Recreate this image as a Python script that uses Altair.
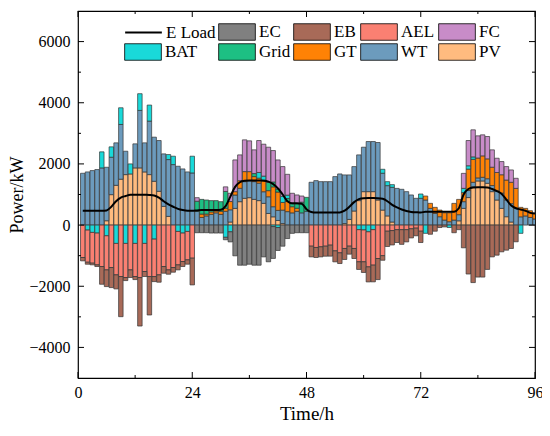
import altair as alt
import pandas as pd

hours = list(range(1, 97))

PV = [0, 0, 0, 0, 0, 142, 995, 1300, 1500, 1650, 1672, 1870, 1870, 1738, 1650, 1432, 1104, 612, 284, 0, 0, 0, 0, 0,
      0, 0, 0, 0, 0, 0, 0, 100, 546, 765, 875, 896, 841, 800, 710, 380, 270, 150, 50, 0, 0, 0, 0, 0,
      0, 0, 0, 0, 0, 0, 0, 50, 185, 460, 800, 1093, 1093, 1093, 820, 490, 300, 100, 0, 0, 0, 0, 0, 0,
      0, 0, 0, 0, 0, 0, 0, 140, 546, 900, 1250, 1443, 1443, 1366, 1093, 820, 546, 273, 100, 0, 0, 0, 0, 0]

WT = [1694, 1738, 1782, 1815, 1870, 1749, 1224, 1389, 1790, 765, 0, 786, 1879, 951, 1750, 1443, 1661, 1716, 1858, 1978, 1924, 1836, 1738, 1705,
      450, 250, 300, 350, 400, 350, 450, 400, 437, 437, 546, 557, 580, 570, 380, 546, 330, 330, 440, 440, 400, 450, 400, 450,
      1400, 1454, 1420, 1420, 1420, 1585, 1672, 1590, 1455, 1452, 1495, 1454, 1639, 1639, 1880, 1205, 990, 1135, 1200, 1170, 1093, 985, 875, 875,
      820, 546, 380, 273, 164, 110, 164, 200, 220, 230, 150, 100, 120, 150, 200, 300, 500, 550, 600, 550, 270, 300, 250, 200]

GT = [0] * 24 + \
     [0, 110, 60, 80, 60, 100, 100, 270, 110, 250, 328, 295, 164, 165, 380, 200, 650, 600, 250, 330, 200, 100, 0, 0] + \
     [0] * 24 + \
     [130, 165, 200, 217, 236, 290, 546, 500, 295, 700, 750, 650, 700, 650, 600, 600, 600, 650, 700, 650, 310, 246, 220, 183]

Grid = [0] * 24 + \
       [330, 480, 460, 370, 340, 315, 550, 0, 0, 0, 0, 0, 100, 0, 0, 270, 160, 100, 0, 100, 100, 150, 350, 457] + \
       [0] * 48

BAT = [0, -164, -240, -262, 524, -350, 339, -600, 546, -600, 328, -600, 547, -600, 524, -460, 0, 0, 164, 274, -208, -262, -208, 547,
       0, 0, 0, 0, 0, 0, -400, -220, 0, 0, 0, 0, 0, 185, 131, 0, -50, -80, 200, 110, 0, 0, 0, 0,
       0, 0, 0, 0, 0, 0, 0, 0, 0, 0, -150, -160, -220, -150, 0, 130, 130, 87, 0, 0, 0, 0, 0, 141,
       -270, 0, 0, 0, 0, -80, 0, 0, 140, 110, 80, 0, 0, 0, 0, 0, 0, 0, 0, 0, -270, 0, 0, 0]

FC = [0] * 24 + \
     [116, 0, 0, 0, 0, 0, 150, 270, 1038, 843, 1038, 1006, 775, 1045, 1044, 1151, 1027, 950, 973, 680, 340, 285, 200, 0] + \
     [0] * 24 + \
     [0, 0, 0, 0, 0, 0, 0, 0, 490, 825, 885, 725, 688, 730, 567, 466, 431, 440, 403, 330, 0, 0, 0, 0]

AEL = [-1060, -1050, -1005, -1038, -1355, -1115, -1388, -1027, -1683, -1115, -1465, -1082, -1716, -918, -1683, -1224, -1628, -1355, -1465, -1388, -1093, -929, -929, -1082] + \
      [0] * 24 + \
      [-690, -732, -710, -690, -656, -842, -907, -765, -689, -765, -1050, -1040, -1146, -1160, -1093, -1000, -200, -180, -150, -150, -150, -120, -100, -200] + \
      [0] * 24

EB = [-110, -66, -55, -55, -580, -546, -656, -460, -1312, -100, -250, -100, -1585, -164, -1257, -164, -240, -219, -142, -153, -164, -164, -142, -874] + \
     [0] * 24 + \
     [-350, -328, -330, -328, -360, -360, -350, -360, -262, -328, -251, -350, -492, -546, -689, -150, -500, -470, -420, -480, -400, -300, -250, -370] + \
     [0, -300, -200, -80, -60, 0, -250, -150, -743, -1600, -1880, -1700, -1700, -1450, -1040, -984, -874, -820, -765, -546, 0, 0, 0, 0]

EC = [0] * 24 + \
     [-250, -250, -250, -260, -260, -260, -80, -330, -1005, -1312, -1312, -1280, -1312, -1312, -1040, -1200, -1040, -750, -690, -440, -270, -250, -250, -250] + \
     [0] * 48

ELoad = [470, 470, 470, 470, 470, 480, 600, 780, 900, 950, 990, 995, 995, 990, 985, 970, 900, 780, 680, 600, 530, 490, 470, 470,
         480, 490, 490, 490, 490, 500, 620, 930, 1250, 1400, 1450, 1460, 1460, 1455, 1450, 1420, 1340, 1200, 1000, 780, 710, 710, 700, 520,
         430, 410, 410, 410, 410, 410, 415, 470, 600, 750, 850, 880, 885, 885, 880, 860, 780, 660, 580, 510, 460, 430, 420, 410,
         437, 437, 437, 437, 437, 437, 440, 550, 1000, 1180, 1230, 1235, 1235, 1230, 1180, 1110, 1020, 830, 640, 550, 510, 470, 400, 380]

x_ticks_major = [0, 24, 48, 72, 96]
x_ticks_minor = [12, 36, 60, 84]
y_ticks_major = [-4000, -2000, 0, 2000, 4000, 6000]
y_ticks_minor = [-3000, -1000, 1000, 3000, 5000]

series_colors = {"E Load": "#000000", "EC": "#808080", "EB": "#A86A58", "AEL": "#FA8072", "FC": "#C88CC8",
                 "BAT": "#19D9D9", "Grid": "#1DBF83", "GT": "#FF8205", "WT": "#6C9BBD", "PV": "#FFBB7F"}
# legend grid: (column, row)
legend_layout = {"E Load": (0, 0), "EC": (1, 0), "EB": (2, 0), "AEL": (3, 0), "FC": (4, 0),
                 "BAT": (0, 1), "Grid": (1, 1), "GT": (2, 1), "WT": (3, 1), "PV": (4, 1)}

bar_series = [("PV", PV), ("WT", WT), ("GT", GT), ("Grid", Grid), ("BAT", BAT),
              ("FC", FC), ("AEL", AEL), ("EB", EB), ("EC", EC)]

rows = []
for k, (name, vals) in enumerate(bar_series):
    for t, v in zip(hours, vals):
        if v != 0:
            rows.append({"t": t, "series": name, "value": v, "ord": k + 1})
bars_df = pd.DataFrame(rows)
load_df = pd.DataFrame({"t": hours, "value": ELoad, "series": ["E Load"] * len(hours)})

W, H = 457, 367
FONT = "Liberation Serif"
xs = alt.Scale(domain=[0, 96], nice=False, zero=False)
ys = alt.Scale(domain=[-5000, 7000], nice=False, zero=False)

xaxis = alt.Axis(title="Time/h", values=x_ticks_major, format="d", ticks=False, domain=False, grid=False,
                 labelFont=FONT, labelFontSize=16, labelColor="black", labelPadding=6, labelFlush=False,
                 titleFont=FONT, titleFontSize=19, titleFontWeight="normal", titleColor="black", titlePadding=4)
yaxis = alt.Axis(title="Power/kW", values=y_ticks_major, format="d", ticks=False, domain=False, grid=False,
                 labelFont=FONT, labelFontSize=16, labelColor="black", labelPadding=8, labelFlush=False,
                 titleFont=FONT, titleFontSize=18, titleFontWeight="normal", titleColor="black", titlePadding=2)

SYM = 1347  # sqrt -> ~36.7 px swatch width
col_x = [46, 140, 215, 282, 360]
row_y = [2, 22]


def make_legend(name, is_line=False):
    c, r = legend_layout[name]
    return alt.Legend(
        title=None, orient="none", legendX=col_x[c], legendY=row_y[r], padding=0,
        symbolType="M-1,0H1" if is_line else "M-1,-0.45H1V0.45H-1Z",
        symbolSize=SYM, symbolStrokeColor="black",
        symbolStrokeWidth=2 if is_line else 0.8,
        symbolOpacity=1,
        labelFont=FONT, labelFontSize=17, labelColor="black", labelOffset=3,
    )


layers = []
for k, (name, vals) in enumerate(bar_series):
    layer = alt.Chart(bars_df).transform_stack(
        stack="value", groupby=["t"], as_=["y0", "y1"], sort=[alt.SortField("ord", order="ascending")]
    ).transform_filter(
        alt.datum.series == name
    ).transform_calculate(
        x0="datum.t - 0.47", x1="datum.t + 0.47"
    ).mark_bar(stroke="#333333", strokeWidth=0.7, clip=True).encode(
        x=alt.X("x0:Q", scale=xs, axis=xaxis),
        x2="x1:Q",
        y=alt.Y("y0:Q", scale=ys, axis=yaxis),
        y2="y1:Q",
        color=alt.Color("series:N", scale=alt.Scale(domain=[name], range=[series_colors[name]]),
                        legend=make_legend(name)),
    )
    layers.append(layer)

line = alt.Chart(load_df).mark_line(strokeWidth=2, interpolate="monotone", clip=True).encode(
    x=alt.X("t:Q", scale=xs, axis=xaxis),
    y=alt.Y("value:Q", scale=ys, axis=yaxis),
    color=alt.Color("series:N", scale=alt.Scale(domain=["E Load"], range=["#000000"]),
                    legend=make_legend("E Load", is_line=True)),
)
layers.append(line)


def tick_rules(vals, side, length):
    df = pd.DataFrame({"v": vals})
    base = alt.Chart(df).mark_rule(color="black", strokeWidth=1)
    if side == "bottom":
        return base.encode(x=alt.X("v:Q", scale=xs, axis=xaxis), y=alt.value(H), y2=alt.value(H - length))
    if side == "top":
        return base.encode(x=alt.X("v:Q", scale=xs, axis=xaxis), y=alt.value(0), y2=alt.value(length))
    if side == "left":
        return base.encode(y=alt.Y("v:Q", scale=ys, axis=yaxis), x=alt.value(0), x2=alt.value(length))
    return base.encode(y=alt.Y("v:Q", scale=ys, axis=yaxis), x=alt.value(W), x2=alt.value(W - length))


for side in ["bottom", "top"]:
    layers.append(tick_rules(x_ticks_major, side, 6))
    layers.append(tick_rules(x_ticks_minor, side, 3))
for side in ["left", "right"]:
    layers.append(tick_rules(y_ticks_major, side, 6))
    layers.append(tick_rules(y_ticks_minor, side, 3))

chart = alt.layer(*layers).resolve_scale(color="independent").properties(
    width=W, height=H,
    autosize=alt.AutoSizeParams(type="none"),
    padding={"left": 70, "top": 3, "right": 7, "bottom": 48},
).configure_view(stroke="black", strokeWidth=1.2)

chart.save("out.html", embed_options={"renderer": "svg", "actions": False})
